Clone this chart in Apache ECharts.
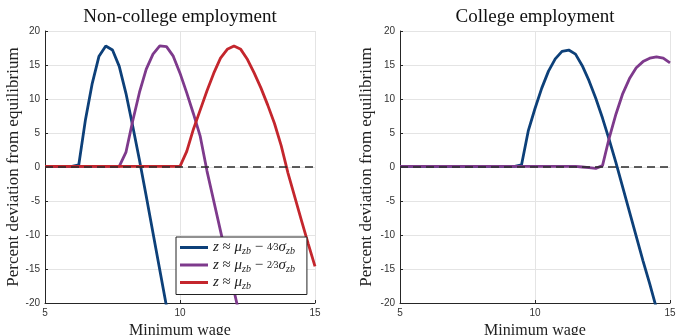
<!DOCTYPE html>
<html><head><meta charset="utf-8">
<script src="https://cdn.jsdelivr.net/npm/echarts@6/dist/echarts.min.js"></script>
<style>html,body{margin:0;padding:0;background:#fff}#c{width:676px;height:335px}</style>
</head><body><div id="c"></div>
<script>
const wages = [5,5.25,5.5,5.75,6,6.25,6.5,6.75,7,7.25,7.5,7.75,8,8.25,8.5,8.75,9,9.25,9.5,9.75,10,10.25,10.5,10.75,11,11.25,11.5,11.75,12,12.25,12.5,12.75,13,13.25,13.5,13.75,14,14.25,14.5,14.75,15];

// Non-college employment
const nonCollegeLow = [0.1,0.1,0.1,0.1,0.1,0.3,7.0,12.3,16.3,17.8,17.2,14.8,10.8,6.0,1.0,-4.3,-9.7,-15.1,-20.5,null,null,null,null,null,null,null,null,null,null,null,null,null,null,null,null,null,null,null,null,null,null];
const nonCollegeMid = [0.1,0.1,0.1,0.1,0.1,0.1,0.1,0.1,0.1,0.1,0.1,0.1,2.2,6.8,11.0,14.4,16.6,17.8,17.7,16.3,13.8,10.9,7.8,4.5,-0.6,-5.0,-9.4,-13.8,-18.2,-22.6,null,null,null,null,null,null,null,null,null,null,null];
const nonCollegeMean = [0.1,0.1,0.1,0.1,0.1,0.1,0.1,0.1,0.1,0.1,0.1,0.1,0.1,0.1,0.1,0.1,0.1,0.1,0.1,0.1,0.1,2.3,5.6,8.4,11.2,13.8,16.0,17.3,17.8,17.3,15.8,13.8,11.6,9.1,6.4,3.1,-0.9,-4.4,-7.9,-11.3,-14.6];

// College employment
const collegeLow = [0.1,0.1,0.1,0.1,0.1,0.1,0.1,0.1,0.1,0.1,0.1,0.1,0.1,0.1,0.1,0.1,0.1,0.1,0.3,5.3,8.6,11.6,14.1,15.9,17.0,17.2,16.6,14.9,12.7,10.1,7.2,4.0,0.6,-3.0,-6.6,-10.2,-13.8,-17.2,-20.8,null,null];
const collegeMid = [0.1,0.1,0.1,0.1,0.1,0.1,0.1,0.1,0.1,0.1,0.1,0.1,0.1,0.1,0.1,0.1,0.1,0.1,0.1,0.1,0.1,0.1,0.1,0.1,0.1,0.1,0.1,0.0,-0.1,-0.2,0.2,4.3,7.8,10.8,13.0,14.6,15.5,16.0,16.2,16.0,15.3];

const titles = ['Non-college employment', 'College employment'];
const xTicks = [5, 10, 15];
const yTicks = [-20, -15, -10, -5, 0, 5, 10, 15, 20];

const COLORS = {low: '#0d4079', mid: '#7e3a8c', mean: '#c4262d'};
const pairs = v => wages.map((w, i) => [w, v[i]]);

const serif = 'Liberation Serif';
const sans = 'Liberation Sans';

function xAxis(gi) {
  return {
    type: 'value', gridIndex: gi, min: xTicks[0], max: xTicks[xTicks.length - 1], interval: 5,
    name: 'Minimum wage', nameLocation: 'middle', nameGap: 17,
    nameTextStyle: {fontFamily: serif, fontSize: 16, color: '#222'},
    axisLine: {onZero: false, lineStyle: {color: '#262626', width: 1}},
    axisTick: {inside: true, length: 3, lineStyle: {color: '#262626'}},
    axisLabel: {fontFamily: sans, fontSize: 10, color: '#333', margin: 5},
    splitLine: {show: true, lineStyle: {color: '#e4e4e4', width: 1}}
  };
}
function yAxis(gi, gap) {
  return {
    type: 'value', gridIndex: gi, min: yTicks[0], max: yTicks[yTicks.length - 1], interval: 5,
    name: 'Percent deviation from equilibrium', nameLocation: 'middle', nameGap: gap, nameRotate: 90,
    nameTextStyle: {fontFamily: serif, fontSize: 17, color: '#222'},
    axisLine: {show: true, onZero: false, lineStyle: {color: '#262626', width: 1}},
    axisTick: {show: true, inside: true, length: 3, lineStyle: {color: '#262626'}},
    axisLabel: {fontFamily: sans, fontSize: 10, color: '#333', margin: 5},
    splitLine: {show: true, lineStyle: {color: '#e4e4e4', width: 1}}
  };
}
function line(name, data, color, gi, withZero) {
  const s = {
    name, type: 'line', xAxisIndex: gi, yAxisIndex: gi, data: pairs(data),
    showSymbol: false, symbol: 'none', clip: true, connectNulls: false,
    lineStyle: {color, width: 2.8}, itemStyle: {color}, animation: false
  };
  if (withZero) {
    s.markLine = {
      silent: true, symbol: ['none', 'none'], animation: false,
      label: {show: false},
      lineStyle: {type: [8, 5], color: '#2a2a2a', width: 1.6},
      data: [{yAxis: 0}]
    };
  }
  return s;
}

const rich = {
  i: {fontFamily: serif, fontStyle: 'italic', fontSize: 15, color: '#222'},
  n: {fontFamily: serif, fontSize: 15, color: '#222'},
  s: {fontFamily: serif, fontStyle: 'italic', fontSize: 10, color: '#222', verticalAlign: 'bottom', lineHeight: 18},
  f: {fontFamily: serif, fontSize: 10, color: '#222'}
};
const legendText = {
  low: '{i|z} {n|≈} {i|μ}{s|zb} {n|−} {f|4⁄3}{i|σ}{s|zb}',
  mid: '{i|z} {n|≈} {i|μ}{s|zb} {n|−} {f|2⁄3}{i|σ}{s|zb}',
  mean: '{i|z} {n|≈} {i|μ}{s|zb}'
};

const chart = echarts.init(document.getElementById('c'));
chart.setOption({
  backgroundColor: '#fff',
  animation: false,
  title: [
    {text: titles[0], left: 175, top: 3, textAlign: 'center', textStyle: {fontFamily: serif, fontSize: 19, fontWeight: 'normal', color: '#111'}},
    {text: titles[1], left: 530, top: 3, textAlign: 'center', textStyle: {fontFamily: serif, fontSize: 19, fontWeight: 'normal', color: '#111'}}
  ],
  grid: [
    {left: 45, right: 361, top: 31, bottom: 32, containLabel: false, outerBoundsMode: 'none'},
    {left: 400, right: 6, top: 31, bottom: 32, containLabel: false, outerBoundsMode: 'none'}
  ],
  xAxis: [xAxis(0), xAxis(1)],
  yAxis: [yAxis(0, 20), yAxis(1, 25)],
  legend: {
    data: ['low', 'mid', 'mean'],
    orient: 'vertical', left: 176, top: 237,
    backgroundColor: '#fff', borderColor: '#222', borderWidth: 1, borderRadius: 0,
    padding: [3, 12, 3, 4], itemGap: 1, itemWidth: 28, itemHeight: 3, icon: 'rect',
    formatter: n => legendText[n],
    textStyle: {rich, fontFamily: serif, fontSize: 15, color: '#222'}
  },
  series: [
    line('low', nonCollegeLow, COLORS.low, 0, false),
    line('mid', nonCollegeMid, COLORS.mid, 0, false),
    line('mean', nonCollegeMean, COLORS.mean, 0, true),
    line('low', collegeLow, COLORS.low, 1, false),
    line('mid', collegeMid, COLORS.mid, 1, true)
  ]
});
</script>
</body></html>
